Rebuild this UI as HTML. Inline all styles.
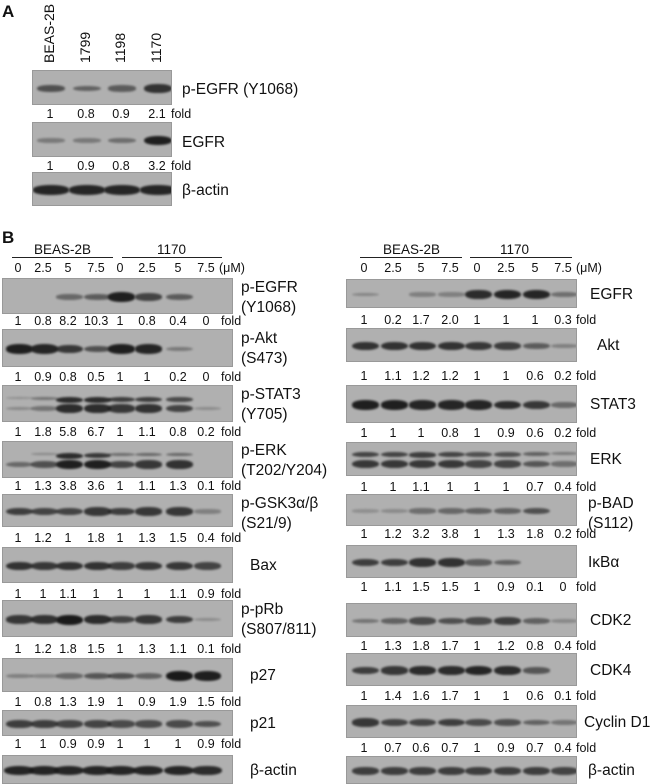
<!DOCTYPE html>
<html><head><meta charset="utf-8">
<style>
body{margin:0;width:650px;height:784px;background:#fff;position:relative;overflow:hidden;font-family:"Liberation Sans",sans-serif;color:#111}
.b{position:absolute;background:#b0b0b0;border:1px solid #999;box-sizing:border-box;overflow:hidden}
.band{position:absolute;background:#1a1a1a;border-radius:45%;filter:blur(1px)}
.t{position:absolute;white-space:nowrap;line-height:1;z-index:2}
.f{font-size:12.5px}
.l{font-size:15.5px;line-height:1.3}
.h{position:absolute;height:1px;background:#222}
</style></head><body>
<div id="c"></div>
<script>
var c=document.getElementById('c'),H='';
function T(x,y,s,cls,extra){H+='<div class="t '+(cls||'')+'" style="left:'+x+'px;top:'+y+'px;'+(extra||'')+'">'+s+'</div>';}
function blot(x,y,w,h,lanes,ints,bw,dbl){
 H+='<div class="b" style="left:'+x+'px;top:'+y+'px;width:'+w+'px;height:'+h+'px">';
 for(var i=0;i<lanes.length;i++){var v=ints[i];
  var bh=Math.max(2,Math.min(h*0.4,3+v*7));var cy=h/2+(dbl?4:0);
  if(v>0)H+='<div class="band" style="left:'+(lanes[i]-x-bw/2)+'px;top:'+(cy-bh/2)+'px;width:'+bw+'px;height:'+bh+'px;opacity:'+Math.min(1,0.2+v*0.8)+'"></div>';
  if(dbl){var v2=dbl[i];if(v2>0)H+='<div class="band" style="left:'+(lanes[i]-x-bw/2)+'px;top:'+(h/2-8)+'px;width:'+bw+'px;height:'+(2+v2*5)+'px;opacity:'+Math.min(1,0.2+v2*0.8)+'"></div>';}
 }
 H+='</div>';
}
function folds(lanes,y,vals,fx){for(var i=0;i<vals.length;i++){T(lanes[i]-12,y,'<span style="display:inline-block;width:24px;text-align:center">'+vals[i]+'</span>','f');}T(fx,y,'fold','f');}
T(2,3,'A','', 'font-weight:bold;font-size:17px');
var LA=[50,86,121,157];
[['BEAS-2B',50],['1799',86],['1198',121],['1170',157]].forEach(function(a){H+='<div class="t" style="font-size:14px;left:'+(a[1]-8)+'px;top:63px;transform:rotate(-90deg);transform-origin:0 0">'+a[0]+'</div>';});
blot(32,70,140,35,LA,[0.55,0.4,0.45,0.8],28);T(182,80,'p-EGFR (Y1068)','l');
folds(LA,108,['1','0.8','0.9','2.1'],171);
blot(32,122,140,35,LA,[0.2,0.2,0.3,0.95],28);T(182,133,'EGFR','l');
folds(LA,160,['1','0.9','0.8','3.2'],171);
blot(32,172,140,34,LA,[0.9,0.9,0.9,0.9],36);T(182,181,'β-actin','l');
T(2,229,'B','','font-weight:bold;font-size:17px');
var L=[18,43,68,96,120,147,178,206], R=[364,393,421,450,477,506,535,563];
function header(ls,l1,l2,c1,c2,mx){T(c1-28,243,'BEAS-2B','', 'font-size:13.5px');T(c2-15,243,'1170','','font-size:13.5px');
 H+='<div class="h" style="left:'+l1[0]+'px;top:257px;width:'+(l1[1]-l1[0])+'px"></div><div class="h" style="left:'+l2[0]+'px;top:257px;width:'+(l2[1]-l2[0])+'px"></div>';
 ['0','2.5','5','7.5','0','2.5','5','7.5'].forEach(function(s,i){T(ls[i]-12,262,'<span style="display:inline-block;width:24px;text-align:center">'+s+'</span>','f');});T(mx,262,'(μM)','f');}
header(L,[12,113],[122,222],62,172,219);
header(R,[360,462],[470,572],411,515,576);
var left=[
 [278,36,['p-EGFR','(Y1068)'],[0,0,0.35,0.45,0.95,0.65,0.45,0],['1','0.8','8.2','10.3','1','0.8','0.4','0'],315],
 [329,38,['p-Akt','(S473)'],[0.95,0.9,0.75,0.55,0.95,0.9,0.2,0],['1','0.9','0.8','0.5','1','1','0.2','0'],371],
 [385,37,['p-STAT3','(Y705)'],[0.08,0.25,0.85,0.85,0.75,0.8,0.65,0.05],['1','1.8','5.8','6.7','1','1.1','0.8','0.2'],426,[0.03,0.25,0.85,0.85,0.7,0.7,0.6,0]],
 [441,37,['p-ERK','(T202/Y204)'],[0.35,0.55,0.95,0.95,0.65,0.75,0.8,0],['1','1.3','3.8','3.6','1','1.1','1.3','0.1'],480,[0,0.1,0.85,0.75,0.3,0.35,0.35,0]],
 [494,33,['p-GSK3α/β','(S21/9)'],[0.7,0.65,0.65,0.75,0.7,0.75,0.75,0.15],['1','1.2','1','1.8','1','1.3','1.5','0.4'],532],
 [547,36,['Bax'],[0.8,0.75,0.8,0.8,0.7,0.75,0.75,0.65],['1','1','1.1','1','1','1','1.1','0.9'],588],
 [600,37,['p-pRb','(S807/811)'],[0.75,0.8,1,0.85,0.65,0.75,0.7,0.05],['1','1.2','1.8','1.5','1','1.3','1.1','0.1'],643],
 [658,34,['p27'],[0.15,0.1,0.35,0.5,0.55,0.4,1,0.95],['1','0.8','1.3','1.9','1','0.9','1.9','1.5'],696],
 [710,26,['p21'],[0.7,0.7,0.65,0.65,0.6,0.6,0.6,0.55],['1','1','0.9','0.9','1','1','1','0.9'],738],
 [755,29,['β-actin'],[0.9,0.9,0.9,0.9,0.9,0.9,0.9,0.85],null,0]
];
left.forEach(function(r){blot(2,r[0],231,r[1],L,r[3],r[2][0]=='β-actin'?30:27,r[6]);
 var lx=(r[2][0]=='Bax'||r[2][0]=='p27'||r[2][0]=='p21'||r[2][0]=='β-actin')?250:241;
 T(lx,r[0]+(r[2].length>1?0:r[1]/2-9),r[2].join('<br>'),'l');});
left.forEach(function(r){if(r[4])folds(L,r[5],r[4],221);});
var right=[
 [279,29,['EGFR'],[0.1,0,0.15,0.15,0.85,0.9,0.9,0.3],['1','0.2','1.7','2.0','1','1','1','0.3'],314],
 [328,34,['Akt'],[0.8,0.8,0.8,0.8,0.75,0.7,0.45,0.15],['1','1.1','1.2','1.2','1','1','0.6','0.2'],370],
 [385,38,['STAT3'],[0.95,0.95,0.9,0.9,0.9,0.85,0.75,0.35],['1','1','1','0.8','1','0.9','0.6','0.2'],427],
 [442,34,['ERK'],[0.75,0.75,0.75,0.75,0.65,0.65,0.5,0.3],['1','1','1.1','1','1','1','0.7','0.4'],481,[0.65,0.65,0.7,0.65,0.55,0.55,0.4,0.2]],
 [494,32,['p-BAD','(S112)'],[0.02,0.06,0.3,0.35,0.4,0.4,0.55,0],['1','1.2','3.2','3.8','1','1.3','1.8','0.2'],528],
 [545,33,['IκBα'],[0.7,0.7,0.8,0.8,0.45,0.4,0,0],['1','1.1','1.5','1.5','1','0.9','0.1','0'],581],
 [603,34,['CDK2'],[0.25,0.4,0.6,0.55,0.6,0.7,0.4,0.08],['1','1.3','1.8','1.7','1','1.2','0.8','0.4'],640],
 [653,33,['CDK4'],[0.7,0.75,0.85,0.85,0.9,0.85,0.5,0],['1','1.4','1.6','1.7','1','1','0.6','0.1'],690],
 [705,33,['Cyclin D1'],[0.75,0.65,0.65,0.7,0.6,0.55,0.4,0.25],['1','0.7','0.6','0.7','1','0.9','0.7','0.4'],742],
 [756,28,['β-actin'],[0.7,0.7,0.7,0.7,0.7,0.7,0.7,0.65],null,0]
];
right.forEach(function(r){blot(346,r[0],231,r[1],R,r[3],27,r[6]);
 var n=r[2][0];
 var lx=n=='Cyclin D1'?584:(n=='Akt'?597:(n=='p-BAD'||n=='β-actin'||n=='IκBα'?588:590));
 T(lx,r[0]+(r[2].length>1?0:r[1]/2-9),r[2].join('<br>'),'l');});
right.forEach(function(r){if(r[4])folds(R,r[5],r[4],576);});
c.innerHTML=H;
</script>
</body></html>
